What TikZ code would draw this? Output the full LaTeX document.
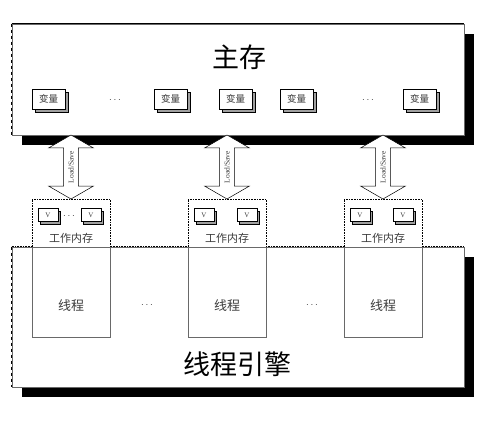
\documentclass[tikz,border=0pt]{standalone}
\usepackage{fontspec}
\setmainfont{Liberation Serif}
\newfontfamily\cjk{Noto Sans CJK SC}
\usetikzlibrary{
    shapes.arrows,
    shadows,
    positioning,
    calc
}
\definecolor{Cedge}{RGB}{105, 105, 105}
\definecolor{Cside}{RGB}{160, 160, 160}
\definecolor{Ctext}{RGB}{60, 60, 60}
\tikzset{
    bigbox/.style={
        rectangle, draw=Cedge, line width=0.6pt, fill=white,
        minimum width=452pt, inner sep=0pt,
        drop shadow={shadow xshift=10pt, shadow yshift=-10pt, opacity=1, fill=black}
    },
    varbox/.style={
        rectangle, draw=black, line width=0.5pt, fill=white,
        minimum width=33pt, minimum height=20pt, inner sep=0pt,
        font=\cjk\fontsize{9.5}{9.5}\selectfont, text=Ctext,
        drop shadow={shadow xshift=3pt, shadow yshift=-3pt, opacity=1, fill=Cside, draw=black, line width=0.4pt}
    },
    vbox/.style={
        rectangle, draw=black, line width=0.5pt, fill=white,
        minimum width=20pt, minimum height=13pt, inner sep=0pt,
        font=\fontsize{7}{7}\selectfont, text=Ctext,
        drop shadow={shadow xshift=2.5pt, shadow yshift=-2.5pt, opacity=1, fill=Cside, draw=black, line width=0.4pt}
    },
    wmbox/.style={
        rectangle, draw=black, densely dotted, line width=0.6pt, fill=white,
        minimum width=78pt, minimum height=48pt, inner sep=0pt
    },
    thbox/.style={
        rectangle, draw=Cedge, line width=0.9pt, fill=white,
        minimum width=78pt, minimum height=90pt, inner sep=0pt
    },
    lsarrow/.style={
        double arrow, draw=black, line width=0.5pt, fill=white,
        rotate=90, minimum height=64pt, inner xsep=2pt, inner ysep=4.5pt,
        double arrow head extend=15pt, double arrow tip angle=120,
        font=\fontsize{7.5}{7.5}\selectfont, text=Ctext
    },
    dots/.style={font=\fontsize{10}{10}\selectfont, text=Ctext, inner sep=0pt},
    cjklabel/.style={font=\cjk\fontsize{#1}{#1}\selectfont, text=Ctext, inner sep=0pt},
}

\begin{document}
\begin{tikzpicture}[x=1pt, y=-1pt]
    \useasboundingbox (0,0) rectangle (496,424);

    % main memory
    \node [bigbox, minimum height=111pt] (main) at (238,79.5) {};
    \draw [black, dashed, line width=0.6pt] (main.north west) -- (main.south west);
    \draw [black, line width=0.6pt] (main.north west) -- (main.north east);
    \node [cjklabel=27, text=black] (maintitle) at (239,57) {主存};

    \node [varbox] (var1) at (48.5,99) {变量};
    \node [varbox] (var2) at (170.5,99) {变量};
    \node [varbox] (var3) at (235.5,99) {变量};
    \node [varbox] (var4) at (296.5,99) {变量};
    \node [varbox] (var5) at (419.5,99) {变量};
    \node [dots] (vdots1) at (115,100) {$\cdots$};
    \node [dots] (vdots2) at (368,100) {$\cdots$};

    % thread engine
    \node [bigbox, minimum height=140pt] (engine) at (238,317) {};
    \draw [black, densely dotted, line width=0.6pt] (engine.north west) -- (engine.north east);
    \draw [black, dashed, line width=0.6pt] (engine.north west) -- (engine.south west);
    \node [cjklabel=27, text=black] (enginetitle) at (237,364) {线程引擎};

    % working memory + threads
    \foreach \i/\x in {1/71, 2/227, 3/383} {
        \node [wmbox] (wm\i) at (\x,223) {};
        \node [thbox, below=0pt of wm\i] (th\i) {};
        \node [vbox] (va\i) at ($(wm\i.center)+(-23,-8)$) {V};
        \node [vbox] (vb\i) at ($(wm\i.center)+(20,-8)$) {V};
        \node [cjklabel=11] (wmlabel\i) at ($(wm\i.center)+(0,15)$) {工作内存};
        \node [cjklabel=13] (thlabel\i) at ($(th\i.center)+(0,13)$) {线程};
    }
    \node [dots] (wmdots) at (69,216) {$\cdots$};
    \node [dots] (tdots1) at (147,305) {$\cdots$};
    \node [dots] (tdots2) at (312,305) {$\cdots$};

    % Load/Save arrows
    \foreach \i in {1,2,3} {
        \node [lsarrow] (ls\i) at ($(wm\i.north |- main.south)!0.5!(wm\i.north)$) {Load/Save};
    }

\end{tikzpicture}
\end{document}
